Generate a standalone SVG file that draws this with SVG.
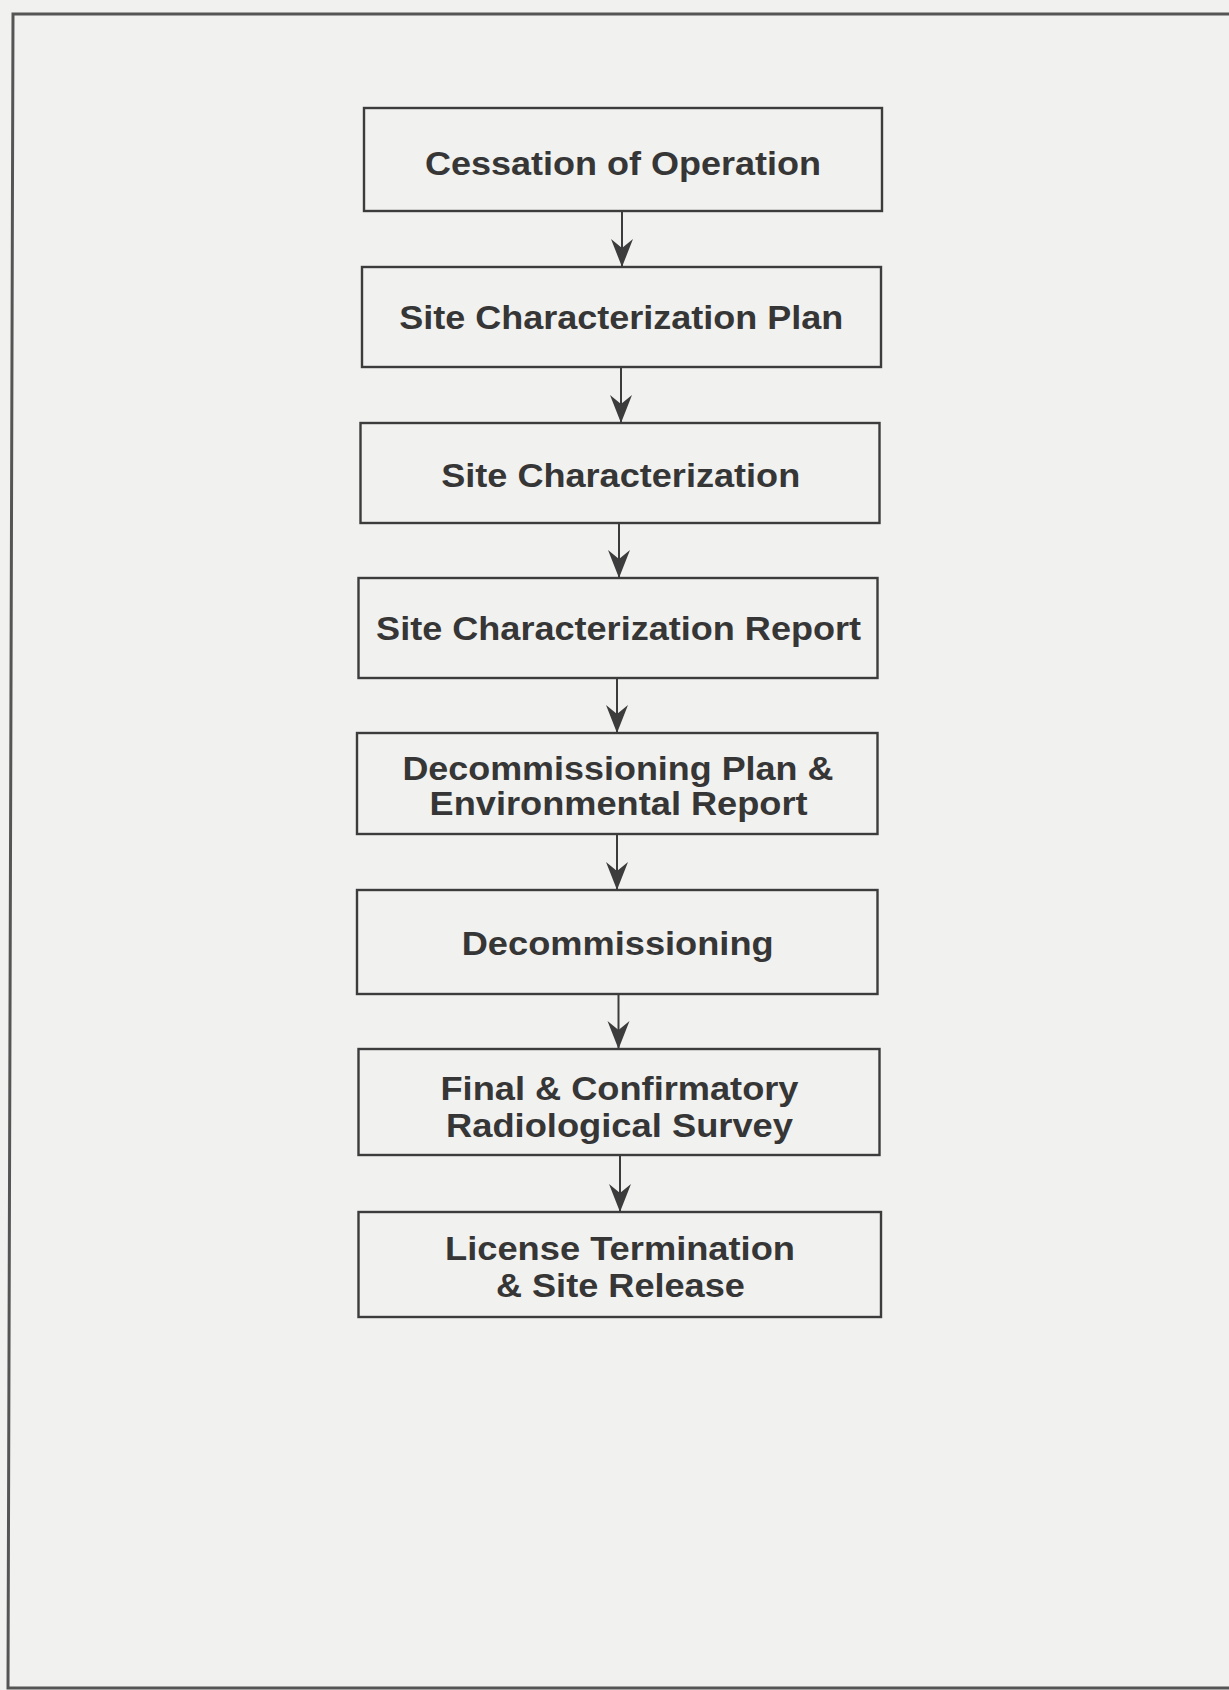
<svg xmlns="http://www.w3.org/2000/svg" width="1229" height="1690" viewBox="0 0 1229 1690">
<style>
.box{fill:none;stroke:#3c3c3c;stroke-width:2.4}
.lbl{font-family:"Liberation Sans",Arial,Helvetica,sans-serif;font-weight:bold;font-size:32.5px;fill:#363636;text-anchor:middle}
.conn{stroke:#3c3c3c;stroke-width:2;fill:none}
</style>
<defs>
<marker id="ah" markerUnits="userSpaceOnUse" markerWidth="32" markerHeight="24" viewBox="-30 -12 32 24" refX="0" refY="0" orient="auto">
<path d="M0,0 L-28,-11 L-19,0 L-28,11 Z" fill="#3c3c3c"/>
</marker>
</defs>
<rect width="1229" height="1690" fill="#f1f1ef"/>
<path d="M1229,14 H13 L8,1688 H1229" fill="none" stroke="#555" stroke-width="3"/>
<g id="connectors">
<path class="conn" d="M622,211 V267" marker-end="url(#ah)"/>
<path class="conn" d="M621,367 V423" marker-end="url(#ah)"/>
<path class="conn" d="M619,523 V578" marker-end="url(#ah)"/>
<path class="conn" d="M617,678 V733" marker-end="url(#ah)"/>
<path class="conn" d="M617,834 V890" marker-end="url(#ah)"/>
<path class="conn" d="M618.5,994 V1049" marker-end="url(#ah)"/>
<path class="conn" d="M620,1155 V1212" marker-end="url(#ah)"/>
</g>
<g id="n1"><rect class="box" x="364" y="108" width="518" height="103"/><text class="lbl" x="623" y="175" textLength="396" lengthAdjust="spacingAndGlyphs">Cessation of Operation</text></g>
<g id="n2"><rect class="box" x="362" y="267" width="519" height="100"/><text class="lbl" x="621.3" y="329" textLength="444" lengthAdjust="spacingAndGlyphs">Site Characterization Plan</text></g>
<g id="n3"><rect class="box" x="360.5" y="423" width="519" height="100"/><text class="lbl" x="620.7" y="487" textLength="359" lengthAdjust="spacingAndGlyphs">Site Characterization</text></g>
<g id="n4"><rect class="box" x="358.5" y="578" width="519" height="100"/><text class="lbl" x="618.6" y="640" textLength="485" lengthAdjust="spacingAndGlyphs">Site Characterization Report</text></g>
<g id="n5"><rect class="box" x="357" y="733" width="520.5" height="101"/><text class="lbl" x="617.9" y="780" textLength="431" lengthAdjust="spacingAndGlyphs">Decommissioning Plan &amp;</text><text class="lbl" x="618.6" y="815" textLength="378" lengthAdjust="spacingAndGlyphs">Environmental Report</text></g>
<g id="n6"><rect class="box" x="357" y="890" width="520.5" height="104"/><text class="lbl" x="617.7" y="955" textLength="312" lengthAdjust="spacingAndGlyphs">Decommissioning</text></g>
<g id="n7"><rect class="box" x="358.5" y="1049" width="521" height="106"/><text class="lbl" x="619.5" y="1100" textLength="358" lengthAdjust="spacingAndGlyphs">Final &amp; Confirmatory</text><text class="lbl" x="619.5" y="1137" textLength="347" lengthAdjust="spacingAndGlyphs">Radiological Survey</text></g>
<g id="n8"><rect class="box" x="358.5" y="1212" width="522.5" height="105"/><text class="lbl" x="620" y="1260" textLength="350" lengthAdjust="spacingAndGlyphs">License Termination</text><text class="lbl" x="620.4" y="1297" textLength="249" lengthAdjust="spacingAndGlyphs">&amp; Site Release</text></g>
</svg>
